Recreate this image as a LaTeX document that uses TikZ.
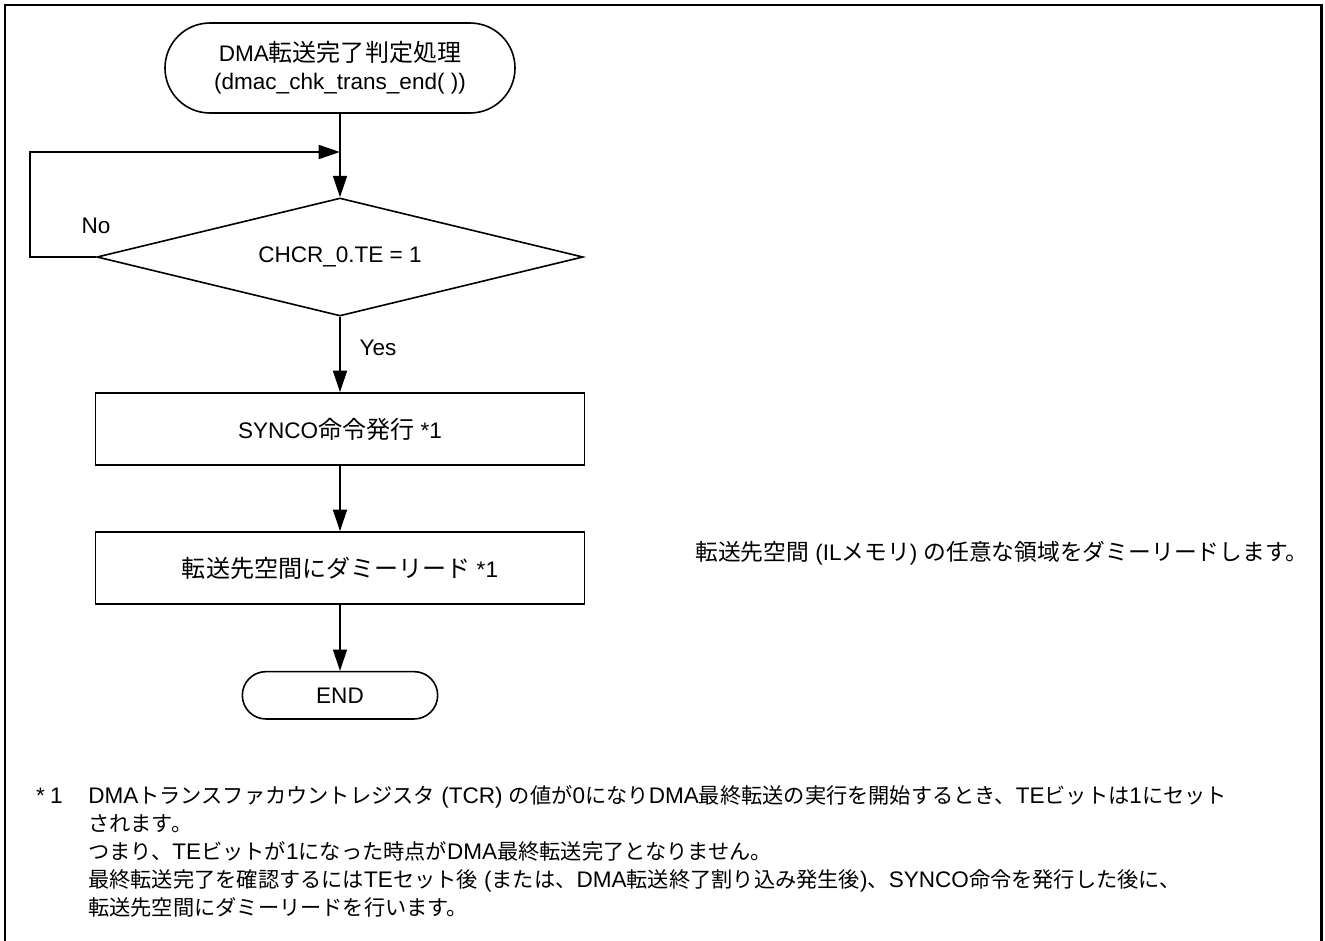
\documentclass[tikz,border=0pt]{standalone}
\usepackage{fontspec}
\setmainfont{Liberation Sans}
\newfontfamily\jpA[Scale=1.067]{Noto Sans CJK JP}
\newfontfamily\jpB[Scale=1.01]{Noto Sans CJK JP}
\newfontfamily\jpC[Scale=0.942]{Noto Sans CJK JP}
\newcommand\J[1]{{\jpA #1}}
\newcommand\K[1]{{\jpB #1}}
\newcommand\F[1]{{\jpC #1}}
\usetikzlibrary{arrows.meta,shapes.geometric}
\tikzset{
  base/.style={font=\fontsize{16.9pt}{21pt}\selectfont},
  term/.style={draw, line width=1.2pt, rectangle, align=center, inner sep=0pt},
  proc/.style={draw, line width=1.2pt, rectangle, minimum width=366.5pt, minimum height=54.2pt, inner sep=0pt},
  dec/.style={draw, line width=1.2pt, diamond, shape aspect=4, minimum width=364.6pt, minimum height=88.5pt, inner sep=0pt},
  arr/.style={-{Triangle[length=16pt,width=10.5pt]}, line width=1.2pt},
  conn/.style={line width=1.2pt},
  lbl/.style={inner sep=0pt},
  foot/.style={inner sep=0pt, anchor=base west, text height=14pt, text depth=5pt}
}
\begin{document}
\begin{tikzpicture}[x=0.75pt,y=-0.75pt,base]
\useasboundingbox (0,0) rectangle (1325,940);
\clip (0,0) rectangle (1325,940);
\fill[white] (0,0) rectangle (1325,940);
\draw[line width=1.7pt] (5,960) -- (5,5) -- (1321.5,5) -- (1321.5,960);

\node[term, rounded corners=33.7pt, minimum width=262.5pt, minimum height=67.5pt] (start) at (340,68)
  {DMA\J{転送完了判定処理}\\(dmac\_chk\_trans\_end( ))};
\node[dec] (d) at (340,257) {CHCR\_0.TE = 1};
\node[proc] (p1) at (340,429) {SYNCO\J{命令発行} *1};
\node[proc] (p2) at (340,568) {\J{転送先空間にダミーリード} *1};
\node[term, rounded corners=17.7pt, minimum width=146.5pt, minimum height=35.5pt] (e) at (340,695.3) {END};

\coordinate (join) at (340,152);
\coordinate (lb) at (30,257);
\coordinate (lt) at (30,152);

\draw[conn] (start.south) -- (join);
\draw[arr] (join) -- (d.north);
\draw[arr] (d.west) -- (lb) -- (lt) -- (join);
\draw[arr] (d.south) -- (p1.north);
\draw[arr] (p1.south) -- (p2.north);
\draw[arr] (p2.south) -- (e.north);

\node[lbl] (no) at (96,226) {No};
\node[lbl] (yes) at (378,348) {Yes};

\node[foot] (note) at (695,560) {\K{転送先空間} (IL\K{メモリ}) \K{の任意な領域をダミーリードします。}};

\node[inner sep=0pt, anchor=base east] (star) at (63,803) {*\hspace{4pt}1};
\node[foot] (f1) at (88,803) {DMA\F{トランスファカウントレジスタ} (TCR) \F{の値が}0\F{になり}DMA\F{最終転送の実行を開始するとき、}TE\F{ビットは}1\F{にセット}};
\node[foot] (f2) at (88,831) {\F{されます。}};
\node[foot] (f3) at (88,859) {\F{つまり、}TE\F{ビットが}1\F{になった時点が}DMA\F{最終転送完了となりません。}};
\node[foot] (f4) at (88,887) {\F{最終転送完了を確認するには}TE\F{セット後} (\F{または、}DMA\F{転送終了割り込み発生後})\F{、}SYNCO\F{命令を発行した後に、}};
\node[foot] (f5) at (88,915) {\F{転送先空間にダミーリードを行います。}};
\end{tikzpicture}
\end{document}
